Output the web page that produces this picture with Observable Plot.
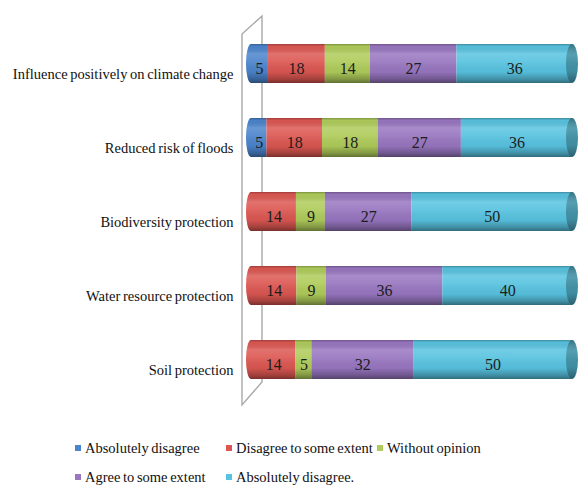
<!DOCTYPE html>
<html>
<head>
<meta charset="utf-8">
<script src="https://cdn.jsdelivr.net/npm/d3@7"></script>
<script src="https://cdn.jsdelivr.net/npm/@observablehq/plot@0.6"></script>
<style>
  body { margin: 0; background: #fff; font-family: "Liberation Serif", "Times New Roman", serif; }
  #chart { width: 579px; height: 486px; overflow: hidden; }
  .legend {
    display: grid;
    grid-template-columns: 151px 151px auto;
    row-gap: 13px;
    padding: 15px 0 0 75px;
    font-size: 14.5px;
    line-height: 16px;
    color: #111;
    word-spacing: -1px;
  }
  .legend .sw { display: inline-block; width: 6px; height: 6px; margin-right: 4px; vertical-align: 2px; }
</style>
</head>
<body>
<div id="chart"></div>
<script>
// Survey items (top to bottom)
const categories = [
  "Influence positively on climate change",
  "Reduced risk of floods",
  "Biodiversity protection",
  "Water resource protection",
  "Soil protection"
];

// Answer categories, in stacking order
const seriesNames = [
  "Absolutely disagree",
  "Disagree to some extent",
  "Without opinion",
  "Agree to some extent",
  "Absolutely disagree."
];

// Percentages per answer, one value per survey item
const absolutelyDisagree = [5, 5, 0, 0, 0];
const disagreeSomeExtent = [18, 18, 14, 14, 14];
const withoutOpinion     = [14, 18, 9, 9, 5];
const agreeSomeExtent    = [27, 27, 27, 36, 32];
const absolutelyAgree    = [36, 36, 50, 40, 50];

const seriesColors = ["#4b84cc", "#dc5752", "#afcc5a", "#9876c0", "#58c3e0"];

const seriesValues = [absolutelyDisagree, disagreeSomeExtent, withoutOpinion, agreeSomeExtent, absolutelyAgree];
const rows = [];
seriesNames.forEach((s, i) => categories.forEach((c, j) => {
  const v = seriesValues[i][j];
  if (v > 0) rows.push({category: c, series: s, value: v});
}));

const stack = {x: "value", y: "category", z: "series", offset: "normalize"};

const plot = Plot.plot({
  width: 579,
  height: 425,
  marginLeft: 251,
  marginRight: 7,
  marginTop: 20,
  marginBottom: 22,
  style: {fontFamily: "'Liberation Serif', 'Times New Roman', serif", fontSize: "14.5px", color: "#111", background: "transparent", wordSpacing: "-1px"},
  x: {axis: null, domain: [0, 1]},
  y: {domain: categories, paddingInner: 0.477, paddingOuter: 0.3, axis: null},
  color: {domain: seriesNames, range: seriesColors},
  marks: [
    Plot.barX(rows, Plot.stackX({...stack, fill: "series"})),
    Plot.barX(rows, Plot.stackX({...stack, fill: "url(#cyl-shade)"})),
    Plot.text(rows, Plot.stackX({...stack, text: "value", dy: 5, fill: "#1c1c1c", fontSize: 16})),
    // item names, set a little below the bar centre as in a 3D view
    Plot.text(categories, {y: d => d, text: d => d, frameAnchor: "left", textAnchor: "end", dx: -18, dy: 10, fill: "#111"})
  ]
});

document.getElementById("chart").appendChild(plot);

// Cylinder shading, end caps and the 3D wall
const ns = "http://www.w3.org/2000/svg";
const svg = d3.select(plot);
const defs = svg.insert("defs", ":first-child");
function addGradient(id, stops) {
  const g = defs.append("linearGradient").attr("id", id)
    .attr("x1", 0).attr("y1", 0).attr("x2", 0).attr("y2", 1);
  for (const [o, c, a] of stops) g.append("stop").attr("offset", o).attr("stop-color", c).attr("stop-opacity", a);
}
addGradient("cyl-shade", [
  [0, "#000", 0.28], [0.06, "#000", 0.03], [0.25, "#fff", 0.16], [0.45, "#fff", 0.08],
  [0.72, "#000", 0.04], [0.9, "#000", 0.26], [1, "#000", 0.45]
]);
addGradient("cap-shade", [
  [0, "#000", 0.25], [0.3, "#fff", 0.10], [0.7, "#000", 0.05], [1, "#000", 0.35]
]);

const barGroups = plot.querySelectorAll('g[aria-label="bar"]');
const colored = barGroups[0];
const shaded = barGroups[1];
const rects = Array.from(colored.querySelectorAll("rect"));
const byRow = d3.group(rects, r => r.getAttribute("y"));

const back = document.createElementNS(ns, "g");
const front = document.createElementNS(ns, "g");
if (colored.getAttribute("transform")) {
  back.setAttribute("transform", colored.getAttribute("transform"));
  front.setAttribute("transform", colored.getAttribute("transform"));
}
let barLeft = Infinity, firstTop = Infinity, lastBottom = -Infinity;
for (const [, rs] of byRow) {
  rs.sort((a, b) => +a.getAttribute("x") - +b.getAttribute("x"));
  const first = rs[0], last = rs[rs.length - 1];
  const y = +first.getAttribute("y"), h = +first.getAttribute("height");
  const x0 = +first.getAttribute("x");
  const x1 = +last.getAttribute("x") + +last.getAttribute("width");
  barLeft = Math.min(barLeft, x0);
  firstTop = Math.min(firstTop, y);
  lastBottom = Math.max(lastBottom, y + h);
  const cy = y + h / 2, ry = h / 2;
  for (const fill of [first.getAttribute("fill"), "url(#cyl-shade)"]) {
    const e = document.createElementNS(ns, "ellipse");
    e.setAttribute("cx", x0); e.setAttribute("cy", cy);
    e.setAttribute("rx", 5); e.setAttribute("ry", ry);
    e.setAttribute("fill", fill);
    back.appendChild(e);
  }
  const capColor = d3.color(last.getAttribute("fill")).darker(0.8).formatHex();
  for (const fill of [capColor, "url(#cap-shade)"]) {
    const e = document.createElementNS(ns, "ellipse");
    e.setAttribute("cx", x1); e.setAttribute("cy", cy);
    e.setAttribute("rx", 6); e.setAttribute("ry", ry);
    e.setAttribute("fill", fill);
    front.appendChild(e);
  }
}
colored.parentNode.insertBefore(back, colored);
shaded.parentNode.insertBefore(front, shaded.nextSibling);

// Side wall drawn behind the bars
const wx = barLeft - 9, depthX = 20;
const wTop = firstTop - 10, wBottom = lastBottom + 26;
const wall = document.createElementNS(ns, "path");
wall.setAttribute("d",
  `M${wx},${wTop}L${wx + depthX},${wTop - 18}L${wx + depthX},${wBottom - 23}L${wx},${wBottom}Z`);
wall.setAttribute("fill", "none");
wall.setAttribute("stroke", "#a8a8a8");
wall.setAttribute("stroke-width", 1.4);
back.parentNode.insertBefore(wall, back);

// Legend below the plot
const legend = document.createElement("div");
legend.className = "legend";
seriesNames.forEach((s, i) => {
  const item = document.createElement("div");
  const sw = document.createElement("span");
  sw.className = "sw";
  sw.style.background = seriesColors[i];
  item.appendChild(sw);
  item.appendChild(document.createTextNode(s));
  legend.appendChild(item);
});
// second row starts with the fourth entry
legend.children[3].style.gridColumn = "1";
document.getElementById("chart").appendChild(legend);
</script>
</body>
</html>
